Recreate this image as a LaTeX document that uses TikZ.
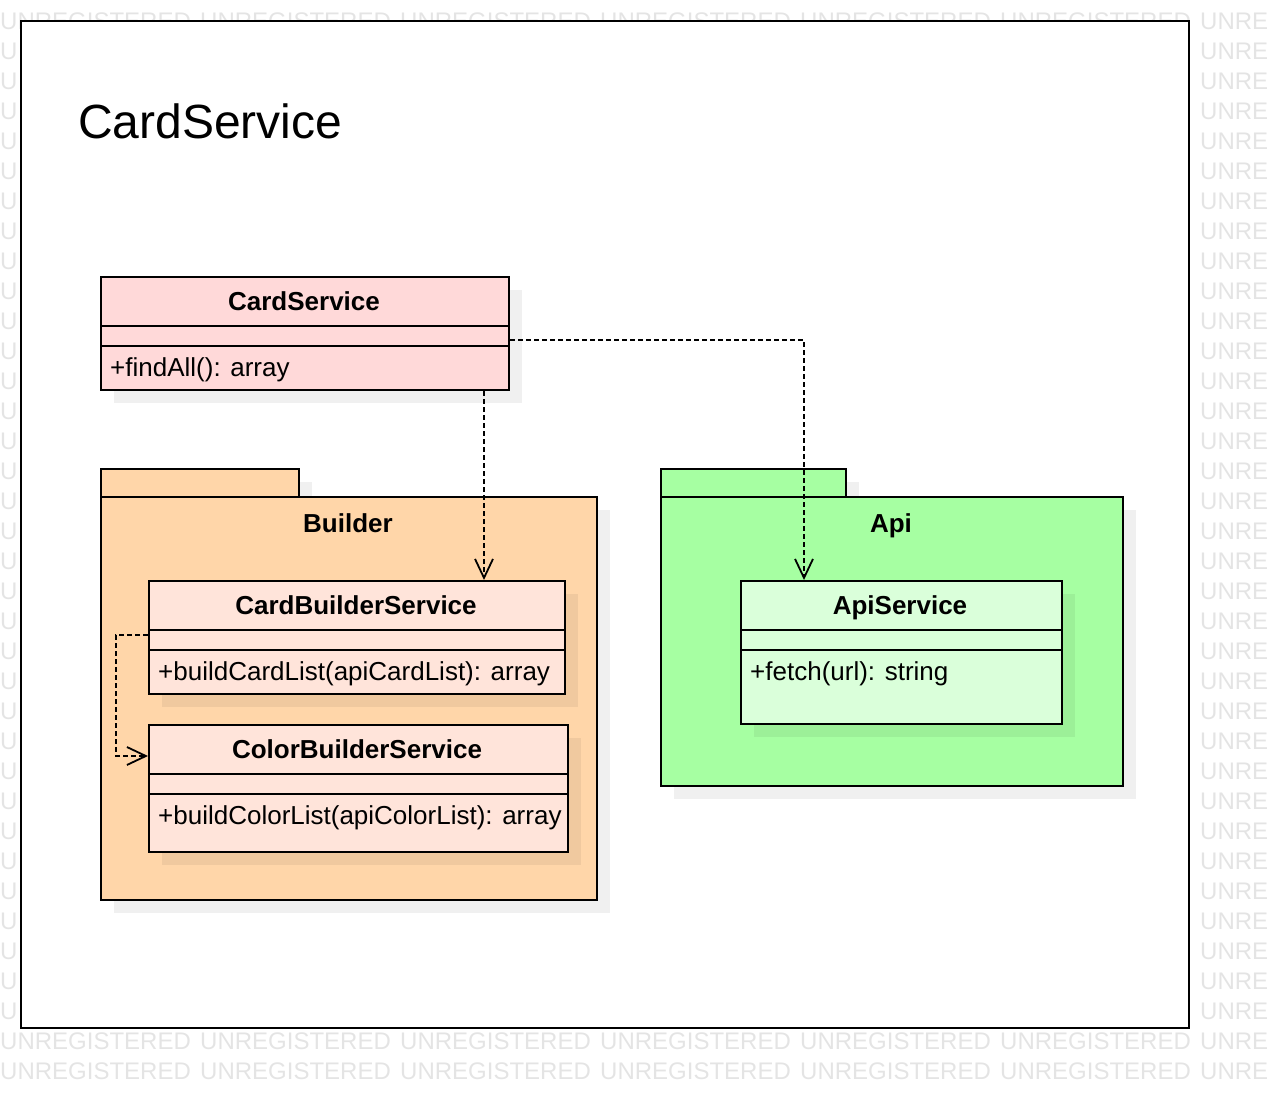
\documentclass[tikz,border=0pt]{standalone}
\usepackage{fontspec}
\setmainfont{Liberation Sans}
\usetikzlibrary{arrows.meta,calc}
\definecolor{wmgray}{HTML}{E4E4E4}
\definecolor{cspink}{HTML}{FFD9D9}
\definecolor{pkgorange}{HTML}{FFD6A9}
\definecolor{bldpink}{HTML}{FFE4DA}
\definecolor{pkggreen}{HTML}{A6FFA2}
\definecolor{apigreen}{HTML}{DAFFDA}
\begin{document}
\begin{tikzpicture}[x=1pt,y=-1pt,
  wm/.style={font=\fontsize{24}{28}\selectfont, text=wmgray, inner sep=0, anchor=west},
  shadowbox/.style={fill=black, fill opacity=0.06, draw=none, inner sep=0, anchor=north west},
  boxbase/.style={draw=black, line width=2pt, inner sep=0, anchor=north west, rectangle},
  divider/.style={draw=black, line width=2pt},
  ctitle/.style={font=\fontsize{26}{30}\selectfont\bfseries, inner sep=0, anchor=base},
  cmethod/.style={font=\fontsize{26}{30}\selectfont, inner sep=0, anchor=base west},
  dep/.style={dash pattern=on 5pt off 3pt, line width=1.7pt,
    -{Straight Barb[length=19pt,width=18pt,line width=1.8pt]}}
]
\clip (0,0) rectangle (1268,1108);
\useasboundingbox (0,0) rectangle (1268,1108);
% watermark (only the parts left visible around the frame)
\foreach \c in {0,...,5}{
  \node[wm] (wmt-\c) at (200*\c, 21) {UNREGISTERED};
  \node[wm] (wmb1-\c) at (200*\c, 1041) {UNREGISTERED};
  \node[wm] (wmb2-\c) at (200*\c, 1071) {UNREGISTERED};
}
\foreach \r in {0,...,35}{
  \node[wm] (wmr-\r) at (1200, 21+30*\r) {UNRE};
}
\foreach \r in {1,...,33}{
  \node[wm] (wml-\r) at (0, 21+30*\r) {U};
}
% frame
\node[boxbase, fill=white, minimum width=1168, minimum height=1007] (frame) at (20,20) {};
\node[anchor=base west, font=\fontsize{48}{56}\selectfont, inner sep=0] (title) at (78,138) {CardService};

% Builder package
\node[shadowbox, minimum width=198, minimum height=28] (bt-sh) at (114,482) {};
\node[shadowbox, minimum width=496, minimum height=403] (bp-sh) at (114,510) {};
\node[boxbase, fill=pkgorange, minimum width=198, minimum height=28] (bt) at (100,468) {};
\node[boxbase, fill=pkgorange, minimum width=496, minimum height=403] (bp) at (100,496) {};
\node[ctitle] (bp-label) at (348,532) {Builder};

% Api package
\node[shadowbox, minimum width=185, minimum height=28] (at-sh) at (674,482) {};
\node[shadowbox, minimum width=462, minimum height=289] (ap-sh) at (674,510) {};
\node[boxbase, fill=pkggreen, minimum width=185, minimum height=28] (at) at (660,468) {};
\node[boxbase, fill=pkggreen, minimum width=462, minimum height=289] (ap) at (660,496) {};
\node[ctitle] (ap-label) at (891,532) {Api};

% CardService class
\node[shadowbox, minimum width=408, minimum height=113] (cs-sh) at (114,290) {};
\node[boxbase, fill=cspink, minimum width=408, minimum height=113] (cs) at (100,276) {};
\draw[divider] ($(cs.north west)+(0,50)$) -- ($(cs.north east)+(0,50)$);
\draw[divider] ($(cs.north west)+(0,70)$) -- ($(cs.north east)+(0,70)$);
\node[ctitle] (cs-t) at (304,310) {CardService};
\node[cmethod] (cs-m) at (110,376) {+findAll(): array};

% CardBuilderService class
\node[shadowbox, minimum width=416, minimum height=113] (cbs-sh) at (162,594) {};
\node[boxbase, fill=bldpink, minimum width=416, minimum height=113] (cbs) at (148,580) {};
\draw[divider] ($(cbs.north west)+(0,50)$) -- ($(cbs.north east)+(0,50)$);
\draw[divider] ($(cbs.north west)+(0,70)$) -- ($(cbs.north east)+(0,70)$);
\node[ctitle] (cbs-t) at (356,614) {CardBuilderService};
\node[cmethod] (cbs-m) at (158,680) {+buildCardList(apiCardList): array};

% ColorBuilderService class
\node[shadowbox, minimum width=419, minimum height=127] (clbs-sh) at (162,738) {};
\node[boxbase, fill=bldpink, minimum width=419, minimum height=127] (clbs) at (148,724) {};
\draw[divider] ($(clbs.north west)+(0,50)$) -- ($(clbs.north east)+(0,50)$);
\draw[divider] ($(clbs.north west)+(0,70)$) -- ($(clbs.north east)+(0,70)$);
\node[ctitle] (clbs-t) at (357,758) {ColorBuilderService};
\node[cmethod] (clbs-m) at (158,824) {+buildColorList(apiColorList): array};

% ApiService class
\node[shadowbox, minimum width=321, minimum height=143] (apis-sh) at (754,594) {};
\node[boxbase, fill=apigreen, minimum width=321, minimum height=143] (apis) at (740,580) {};
\draw[divider] ($(apis.north west)+(0,50)$) -- ($(apis.north east)+(0,50)$);
\draw[divider] ($(apis.north west)+(0,70)$) -- ($(apis.north east)+(0,70)$);
\node[ctitle] (apis-t) at (900,614) {ApiService};
\node[cmethod] (apis-m) at (750,680) {+fetch(url): string};

% dependencies
\draw[dep] ($(cs.north east)+(0,64)$) -| ($(apis.north west)+(64,0)$);
\draw[dep] ($(cs.south west)+(384,0)$) -- ($(cbs.north west)+(336,0)$);
\draw[dep] ($(cbs.north west)+(0,55)$) -- ++(-32,0) |- ($(clbs.north west)+(0,32)$);
\end{tikzpicture}
\end{document}
